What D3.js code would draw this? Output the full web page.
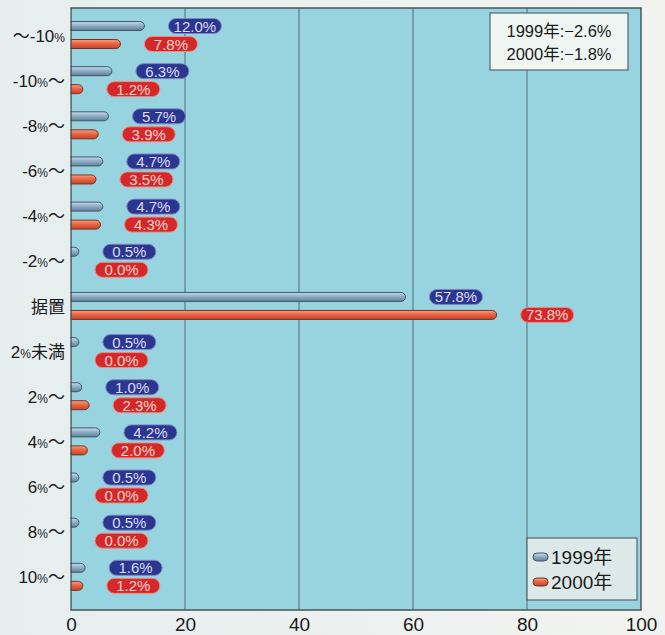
<!DOCTYPE html>
<html>
<head>
<meta charset="utf-8">
<script src="https://cdn.jsdelivr.net/npm/d3@7"></script>
<style>
  body { margin: 0; background: #eef1ef; }
  svg { display: block; }
</style>
</head>
<body>
<script>
var categories = ["～-10%", "-10%～", "-8%～", "-6%～", "-4%～", "-2%～", "据置", "2%未満", "2%～", "4%～", "6%～", "8%～", "10%～"];
var series = ["1999年", "2000年"];
var v1999 = [12.0, 6.3, 5.7, 4.7, 4.7, 0.5, 57.8, 0.5, 1.0, 4.2, 0.5, 0.5, 1.6];
var v2000 = [7.8, 1.2, 3.9, 3.5, 4.3, 0.0, 73.8, 0.0, 2.3, 2.0, 0.0, 0.0, 1.2];
var xTicks = [0, 20, 40, 60, 80, 100];
var notes = ["1999年:−2.6%", "2000年:−1.8%"];

var W = 665, H = 635;
var plotL = 71, plotR = 641, plotT = 8, plotB = 610;
var jp = "'Liberation Sans', 'Noto Sans CJK JP', sans-serif";
var latin = "'Liberation Sans', Arial, sans-serif";

var svg = d3.select("body").append("svg")
    .attr("width", W)
    .attr("height", H);

var defs = svg.append("defs");
var gb = defs.append("linearGradient").attr("id", "gBlue").attr("x1", 0).attr("y1", 0).attr("x2", 0).attr("y2", 1);
gb.append("stop").attr("offset", "0%").attr("stop-color", "#c9dceb");
gb.append("stop").attr("offset", "45%").attr("stop-color", "#8fb0c8");
gb.append("stop").attr("offset", "100%").attr("stop-color", "#5f7f99");
var gr = defs.append("linearGradient").attr("id", "gRed").attr("x1", 0).attr("y1", 0).attr("x2", 0).attr("y2", 1);
gr.append("stop").attr("offset", "0%").attr("stop-color", "#f7a080");
gr.append("stop").attr("offset", "45%").attr("stop-color", "#ec6544");
gr.append("stop").attr("offset", "100%").attr("stop-color", "#c2442a");
var bgGrad = defs.append("linearGradient").attr("id", "gBg").attr("x1", 0).attr("y1", 0).attr("x2", 1).attr("y2", 0);
bgGrad.append("stop").attr("offset", "0%").attr("stop-color", "#e6eeee");
bgGrad.append("stop").attr("offset", "100%").attr("stop-color", "#f2f3f0");

svg.append("rect").attr("width", W).attr("height", H).attr("fill", "url(#gBg)");

var x = d3.scaleLinear().domain([0, 100]).range([plotL, plotR]);
var y = d3.scaleBand().domain(categories).range([13, 600]);
var y1 = d3.scaleBand().domain(series).range([4, 40]);

// plot background
svg.append("rect")
    .attr("x", plotL).attr("y", plotT)
    .attr("width", plotR - plotL).attr("height", plotB - plotT)
    .attr("fill", "#97d4e0");

// grid
svg.append("g").selectAll("line")
  .data(xTicks.slice(1, -1))
  .enter().append("line")
    .attr("x1", function(d) { return x(d); })
    .attr("x2", function(d) { return x(d); })
    .attr("y1", plotT).attr("y2", plotB)
    .attr("stroke", "#46626a")
    .attr("stroke-width", 0.9);

// rows
var rows = categories.map(function(c, i) {
  return { cat: c, vals: [{ s: series[0], v: v1999[i] }, { s: series[1], v: v2000[i] }] };
});

var cap = 5; // rounded end beyond the value

var row = svg.append("g").selectAll("g.row")
  .data(rows)
  .enter().append("g")
    .attr("class", "row")
    .attr("transform", function(d) { return "translate(0," + y(d.cat) + ")"; });

var item = row.selectAll("g.item")
  .data(function(d) { return d.vals; })
  .enter().append("g")
    .attr("class", "item")
    .attr("transform", function(d) { return "translate(0," + (y1(d.s) + y1.bandwidth() / 2) + ")"; });

item.filter(function(d) { return d.v > 0; })
  .append("rect")
    .attr("x", x(0) - 6)
    .attr("y", -4.5)
    .attr("width", function(d) { return x(d.v) - x(0) + cap + 6; })
    .attr("height", 9)
    .attr("rx", 4.5)
    .attr("fill", function(d) { return d.s === series[0] ? "url(#gBlue)" : "url(#gRed)"; })
    .attr("stroke", function(d) { return d.s === series[0] ? "#44576a" : "#7a3322"; })
    .attr("stroke-width", 1);

// frame drawn over the bar starts
svg.append("rect")
    .attr("x", plotL).attr("y", plotT)
    .attr("width", plotR - plotL).attr("height", plotB - plotT)
    .attr("fill", "none")
    .attr("stroke", "#4a5558")
    .attr("stroke-width", 1.5);
// cover the bar starts left of the frame
svg.append("rect")
    .attr("x", plotL - 8).attr("y", plotT)
    .attr("width", 7.2).attr("height", plotB - plotT)
    .attr("fill", "#e6eeee");

var pillW = 53, pillH = 15;
var pill = item.append("g")
    .attr("transform", function(d) {
      var end = d.v > 0 ? x(d.v) + cap : x(0);
      return "translate(" + (end + 24) + ",0)";
    });

pill.append("rect")
    .attr("x", 0).attr("y", -pillH / 2)
    .attr("width", pillW).attr("height", pillH)
    .attr("rx", pillH / 2)
    .attr("fill", function(d) { return d.s === series[0] ? "#2b3690" : "#d4282a"; })
    .attr("stroke", function(d) { return d.s === series[0] ? "#7f86c0" : "#f08a80"; })
    .attr("stroke-width", 1);

pill.append("text")
    .attr("x", pillW / 2)
    .attr("y", 5.5)
    .attr("text-anchor", "middle")
    .attr("font-family", latin)
    .attr("font-size", 15)
    .attr("fill", function(d) { return d.s === series[0] ? "#dcdcf4" : "#f8d6cc"; })
    .text(function(d) { return d.v.toFixed(1) + "%"; });

// category labels, with a smaller % sign
var lab = svg.append("g").selectAll("text")
  .data(categories)
  .enter().append("text")
    .attr("x", 65)
    .attr("y", function(d) { return y(d) + y.bandwidth() / 2 + 6; })
    .attr("text-anchor", "end")
    .attr("font-family", jp)
    .attr("font-size", 17)
    .attr("fill", "#1a1a1a");

lab.each(function(d) {
  var t = d3.select(this);
  var parts = d.split("%");
  parts.forEach(function(p, i) {
    if (p) t.append("tspan").text(p);
    if (i < parts.length - 1) t.append("tspan").attr("font-size", 12).text("%");
  });
});

// x axis
var xAxis = svg.append("g")
    .attr("transform", "translate(0," + plotB + ")")
    .call(d3.axisBottom(x).tickValues(xTicks).tickSize(0).tickPadding(8));
xAxis.select(".domain").remove();
xAxis.selectAll("text")
    .attr("font-family", latin)
    .attr("font-size", 19)
    .attr("fill", "#1a1a1a");

// note box
var note = svg.append("g").attr("transform", "translate(490,13)");
note.append("rect")
    .attr("width", 138).attr("height", 57)
    .attr("fill", "#eef5f2")
    .attr("stroke", "#55656a")
    .attr("stroke-width", 1.2);
note.selectAll("text")
  .data(notes)
  .enter().append("text")
    .attr("x", 69)
    .attr("y", function(d, i) { return 24 + i * 23; })
    .attr("text-anchor", "middle")
    .attr("font-family", jp)
    .attr("font-size", 16.5)
    .attr("fill", "#1a1a1a")
    .text(function(d) { return d; });

// legend
var legend = svg.append("g").attr("transform", "translate(527,538)");
legend.append("rect")
    .attr("width", 110).attr("height", 62)
    .attr("fill", "#dde9e8")
    .attr("stroke", "#55656a")
    .attr("stroke-width", 1.2);
var li = legend.selectAll("g.li")
  .data(series)
  .enter().append("g")
    .attr("class", "li")
    .attr("transform", function(d, i) { return "translate(6," + (19 + i * 25) + ")"; });
li.append("rect")
    .attr("x", 0).attr("y", -4)
    .attr("width", 15).attr("height", 8)
    .attr("rx", 4)
    .attr("fill", function(d, i) { return i === 0 ? "url(#gBlue)" : "url(#gRed)"; })
    .attr("stroke", function(d, i) { return i === 0 ? "#44576a" : "#7a3322"; });
li.append("text")
    .attr("x", 18)
    .attr("y", 7)
    .attr("font-family", jp)
    .attr("font-size", 19)
    .attr("fill", "#1a1a1a")
    .text(function(d) { return d; });
</script>
</body>
</html>
